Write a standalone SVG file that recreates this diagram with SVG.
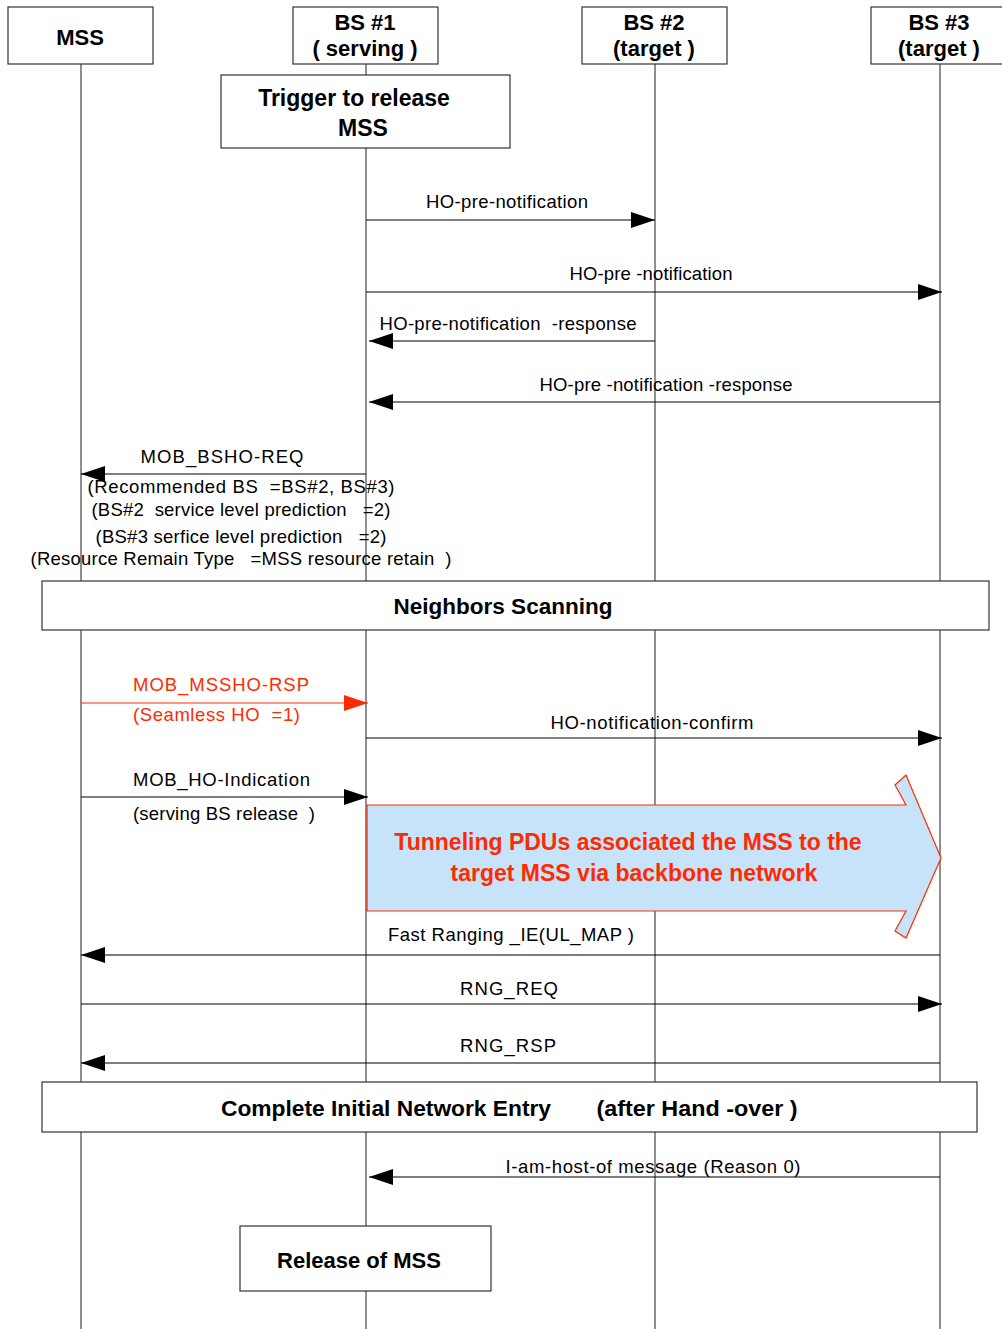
<svg xmlns="http://www.w3.org/2000/svg" width="1002" height="1329" viewBox="0 0 1002 1329">
<style>
text{font-family:"Liberation Sans",Arial,sans-serif;fill:#000;}
.h{font-size:22px;font-weight:bold;text-anchor:middle;}
.t{font-size:23px;font-weight:bold;text-anchor:middle;}
.b{font-size:22.5px;font-weight:bold;text-anchor:middle;}
.l{font-size:18.5px;text-anchor:middle;white-space:pre;}
.ls{font-size:18.5px;white-space:pre;}
.red{fill:#ff2a00;}
.box{fill:#fff;stroke:#333;stroke-width:1.2;}
.life{stroke:#444;stroke-width:1.2;fill:none;}
.msg{stroke:#000;stroke-width:1.2;fill:none;}
.big{font-size:23px;font-weight:bold;text-anchor:middle;fill:#ff2a00;}
</style>
<defs>
<marker id="ah" markerUnits="userSpaceOnUse" markerWidth="25" markerHeight="18" refX="24" refY="8" orient="auto">
<path d="M0,0 L24,8 L0,16 z" fill="#000"/>
</marker>
<marker id="ahr" markerUnits="userSpaceOnUse" markerWidth="25" markerHeight="18" refX="24" refY="8" orient="auto">
<path d="M0,0 L24,8 L0,16 z" fill="#ff2a00"/>
</marker>
</defs>
<rect width="1002" height="1329" fill="#fff"/>
<g id="lifelines">
<line class="life" x1="81" y1="64" x2="81" y2="1329"/>
<line class="life" x1="366" y1="64" x2="366" y2="1329"/>
<line class="life" x1="655" y1="64" x2="655" y2="1329"/>
<line class="life" x1="940" y1="64" x2="940" y2="1329"/>
</g>
<g id="mss"><rect class="box" x="8" y="7" width="145" height="57"/><text class="h" x="80" y="45">MSS</text></g>
<g id="bs1"><rect class="box" x="293" y="7" width="145" height="57"/><text class="h" x="365" y="30">BS #1</text><text class="h" x="365" y="56">( serving )</text></g>
<g id="bs2"><rect class="box" x="582" y="7" width="145" height="57"/><text class="h" x="654" y="30">BS #2</text><text class="h" x="654" y="56">(target )</text></g>
<g id="bs3"><rect class="box" x="871" y="7" width="145" height="57"/><text class="h" x="939" y="30">BS  #3</text><text class="h" x="939" y="56">(target  )</text></g>
<g id="trigger"><rect class="box" x="221" y="75" width="289" height="73"/><text class="t" x="354" y="106">Trigger to release</text><text class="t" x="363" y="136">MSS</text></g>
<g id="neighbors"><rect class="box" x="42" y="581" width="947" height="49"/><text class="b" x="503" y="614">Neighbors Scanning</text></g>
<g id="complete"><rect class="box" x="42" y="1082" width="935" height="50"/><text class="b" x="386" y="1116" textLength="330" lengthAdjust="spacingAndGlyphs">Complete Initial Network Entry</text><text class="b" x="697" y="1116" textLength="201" lengthAdjust="spacingAndGlyphs">(after Hand  -over )</text></g>
<g id="release"><rect class="box" x="240" y="1226" width="251" height="65"/><text class="h" x="359" y="1268">Release of MSS</text></g>
<g id="tunnel">
<polygon points="367,805 906,805 895,785 906,775 941,858 906,938 895,931 906,911 367,911" fill="#c6e3fa" stroke="#ff2a00" stroke-width="1.2"/>
<text class="big" x="628" y="850">Tunneling PDUs associated the MSS to the</text>
<text class="big" x="634" y="881">target MSS via backbone network</text>
</g>
<g id="connectors">
<line class="msg" x1="366" y1="220" x2="655" y2="220" marker-end="url(#ah)"/>
<text class="l" x="507" y="208" textLength="162">HO-pre-notification</text>
<line class="msg" x1="366" y1="292" x2="942" y2="292" marker-end="url(#ah)"/>
<text class="l" x="651" y="280" textLength="163">HO-pre -notification</text>
<line class="msg" x1="655" y1="341" x2="369" y2="341" marker-end="url(#ah)"/>
<text class="l" x="508" y="330" textLength="257">HO-pre-notification  -response</text>
<line class="msg" x1="940" y1="402" x2="369" y2="402" marker-end="url(#ah)"/>
<text class="l" x="666" y="391" textLength="253">HO-pre -notification -response</text>
<line class="msg" x1="366" y1="474" x2="81" y2="474" marker-end="url(#ah)"/>
<text class="l" x="222" y="463" textLength="163">MOB_BSHO-REQ</text>
<text class="l" x="241" y="493" textLength="307">(Recommended BS  =BS#2, BS#3)</text>
<text class="l" x="241" y="516" textLength="299">(BS#2  service level prediction   =2)</text>
<text class="l" x="241" y="543" textLength="291">(BS#3 serfice level prediction   =2)</text>
<text class="l" x="241" y="565" textLength="421">(Resource Remain Type   =MSS resource retain  )</text>
<line x1="81" y1="703" x2="368" y2="703" stroke="#ff2a00" stroke-width="1.2" marker-end="url(#ahr)"/>
<text class="ls red" x="133" y="691" textLength="176">MOB_MSSHO-RSP</text>
<text class="ls red" x="133" y="721" textLength="167">(Seamless HO  =1)</text>
<line class="msg" x1="366" y1="738" x2="942" y2="738" marker-end="url(#ah)"/>
<text class="l" x="652" y="729" textLength="203">HO-notification-confirm</text>
<line class="msg" x1="81" y1="797" x2="368" y2="797" marker-end="url(#ah)"/>
<text class="ls" x="133" y="786" textLength="177">MOB_HO-Indication</text>
<text class="ls" x="133" y="820" textLength="182">(serving BS release  )</text>
<line class="msg" x1="940" y1="955" x2="81" y2="955" marker-end="url(#ah)"/>
<text class="l" x="511" y="941" textLength="246">Fast Ranging _IE(UL_MAP )</text>
<line class="msg" x1="81" y1="1004" x2="942" y2="1004" marker-end="url(#ah)"/>
<text class="l" x="509" y="995" textLength="98">RNG_REQ</text>
<line class="msg" x1="940" y1="1063" x2="81" y2="1063" marker-end="url(#ah)"/>
<text class="l" x="508" y="1052" textLength="96">RNG_RSP</text>
<line class="msg" x1="940" y1="1177" x2="369" y2="1177" marker-end="url(#ah)"/>
<text class="l" x="653" y="1173" textLength="295">I-am-host-of message (Reason 0)</text>
</g>
</svg>
